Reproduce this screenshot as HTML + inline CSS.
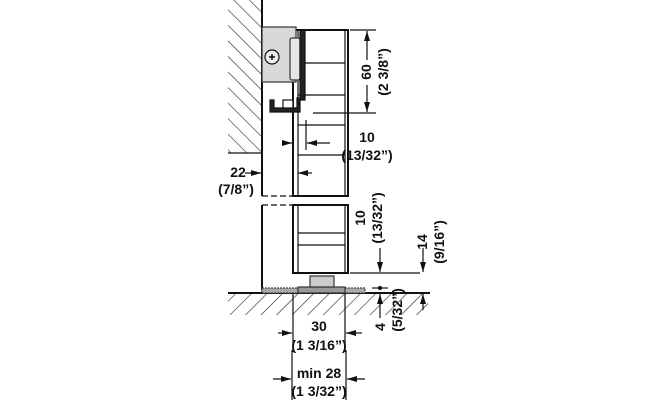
<!DOCTYPE html>
<html><head><meta charset="utf-8"><style>
html,body{margin:0;padding:0;background:#fff}
svg{display:block}
text{font-family:"Liberation Sans",sans-serif;font-weight:bold;font-size:14px;fill:#111}
</style></head><body>
<svg width="660" height="400" viewBox="0 0 660 400" xmlns="http://www.w3.org/2000/svg">
<defs>
<pattern id="h" width="11" height="11" patternUnits="userSpaceOnUse" patternTransform="rotate(-45)">
<line x1="0" y1="0" x2="0" y2="11" stroke="#222" stroke-width="1.2"/>
</pattern>
<pattern id="h2" width="11" height="11" patternUnits="userSpaceOnUse" patternTransform="rotate(45)">
<line x1="0" y1="0" x2="0" y2="11" stroke="#222" stroke-width="1.2"/>
</pattern>
<marker id="a" viewBox="0 0 10 6" refX="10" refY="3" markerWidth="11" markerHeight="6" markerUnits="userSpaceOnUse" orient="auto">
<path d="M0,0 L10,3 L0,6 z" fill="#111"/></marker>
</defs>
<g stroke="#111" fill="none" stroke-width="1.2">
<!-- wall -->
<rect x="228" y="0" width="34" height="153" fill="url(#h)" stroke="none"/>
<line x1="228" y1="153" x2="262" y2="153"/>
<line x1="262" y1="0" x2="262" y2="196" stroke-width="2"/>
<line x1="262" y1="205" x2="262" y2="290" stroke-width="2"/>
<line x1="262" y1="196" x2="293" y2="196" stroke-dasharray="6,3"/>
<line x1="262" y1="205" x2="293" y2="205" stroke-dasharray="6,3"/>
<!-- floor -->
<rect x="228" y="293" width="200" height="22" fill="url(#h2)" stroke="none"/>
<line x1="228" y1="293" x2="430" y2="293" stroke-width="2"/>
<rect x="262" y="288" width="36" height="5" fill="#aaa" stroke="#444" stroke-dasharray="2,1"/>
<rect x="345" y="288" width="20" height="5" fill="#aaa" stroke="#444" stroke-dasharray="2,1"/>
<rect x="298" y="287" width="47" height="6" fill="#999" stroke="#333"/>
<rect x="310" y="276" width="24" height="11" fill="#ccc" stroke="#333"/>
<!-- door -->
<rect x="293" y="30" width="55" height="166" stroke-width="2"/>
<rect x="293" y="205" width="55" height="68" stroke-width="2"/>
<line x1="298" y1="30" x2="298" y2="196"/>
<line x1="298" y1="205" x2="298" y2="273"/>
<line x1="345" y1="30" x2="345" y2="196"/>
<line x1="345" y1="205" x2="345" y2="273"/>
<line x1="298" y1="63" x2="345" y2="63"/>
<line x1="298" y1="95" x2="345" y2="95"/>
<line x1="298" y1="125" x2="345" y2="125"/>
<line x1="298" y1="155" x2="345" y2="155"/>
<line x1="298" y1="233" x2="345" y2="233"/>
<line x1="298" y1="245" x2="345" y2="245"/>
<!-- hardware -->
<rect x="262" y="27" width="34" height="55" fill="#d8d8d8" stroke="#333"/>
<circle cx="272" cy="57" r="7" fill="#eee"/>
<path d="M269,57h6M272,54v6" stroke-width="1.5"/>
<rect x="290" y="38" width="10" height="42" fill="#e6e6e6" stroke="#333" rx="2"/>
<path d="M300,32 L303,30 L305,30 L305,100 L300,100 L300,112 L270,112 L270,100 L274,100 L274,108 L297,108 L297,98 L300,98 Z" fill="#222" stroke="#111"/>
<rect x="283" y="100" width="10" height="8" fill="#fff"/>
<!-- dims 60 -->
<line x1="350" y1="30" x2="376" y2="30"/>
<line x1="313" y1="113" x2="376" y2="113"/>
<line x1="367" y1="60" x2="367" y2="31" marker-end="url(#a)"/>
<line x1="367" y1="85" x2="367" y2="112" marker-end="url(#a)"/>
<!-- 10 top -->
<line x1="306" y1="120" x2="306" y2="150"/>
<line x1="282" y1="143" x2="292" y2="143" marker-end="url(#a)"/>
<line x1="330" y1="143" x2="307" y2="143" marker-end="url(#a)"/>
<!-- 22 -->
<line x1="245" y1="173" x2="261" y2="173" marker-end="url(#a)"/>
<line x1="312" y1="173" x2="298" y2="173" marker-end="url(#a)"/>
<!-- 14 / 10 bottom -->
<line x1="350" y1="273" x2="420" y2="273"/>
<line x1="380" y1="248" x2="380" y2="272" marker-end="url(#a)"/>
<line x1="423" y1="248" x2="423" y2="272" marker-end="url(#a)"/>
<!-- 4 -->
<line x1="372" y1="288" x2="388" y2="288"/>
<circle cx="380" cy="288" r="1.5" fill="#111"/>
<line x1="380" y1="318" x2="380" y2="294" marker-end="url(#a)"/>
<line x1="423" y1="310" x2="423" y2="294" marker-end="url(#a)"/>
<!-- 30 -->
<line x1="293" y1="293" x2="293" y2="352"/>
<line x1="345" y1="293" x2="345" y2="352"/>
<line x1="278" y1="333" x2="292" y2="333" marker-end="url(#a)"/>
<line x1="362" y1="333" x2="346" y2="333" marker-end="url(#a)"/>
<!-- min 28 -->
<line x1="292" y1="350" x2="292" y2="400"/>
<line x1="346" y1="350" x2="346" y2="400"/>
<line x1="273" y1="379" x2="291" y2="379" marker-end="url(#a)"/>
<line x1="365" y1="379" x2="347" y2="379" marker-end="url(#a)"/>
</g>
<text transform="translate(371,72) rotate(-90)" text-anchor="middle">60</text>
<text transform="translate(388,72) rotate(-90)" text-anchor="middle">(2 3/8”)</text>
<text x="367" y="142" text-anchor="middle">10</text>
<text x="367" y="160" text-anchor="middle">(13/32”)</text>
<text x="238" y="177" text-anchor="middle">22</text>
<text x="236" y="194" text-anchor="middle">(7/8”)</text>
<text transform="translate(365,218) rotate(-90)" text-anchor="middle">10</text>
<text transform="translate(382,218) rotate(-90)" text-anchor="middle">(13/32”)</text>
<text transform="translate(427,242) rotate(-90)" text-anchor="middle">14</text>
<text transform="translate(444,242) rotate(-90)" text-anchor="middle">(9/16”)</text>
<text transform="translate(385,327) rotate(-90)" text-anchor="middle">4</text>
<text transform="translate(402,310) rotate(-90)" text-anchor="middle">(5/32”)</text>
<text x="319" y="331" text-anchor="middle">30</text>
<text x="319" y="350" text-anchor="middle">(1 3/16”)</text>
<text x="319" y="378" text-anchor="middle">min 28</text>
<text x="319" y="396" text-anchor="middle">(1 3/32”)</text>
</svg>
</body></html>
